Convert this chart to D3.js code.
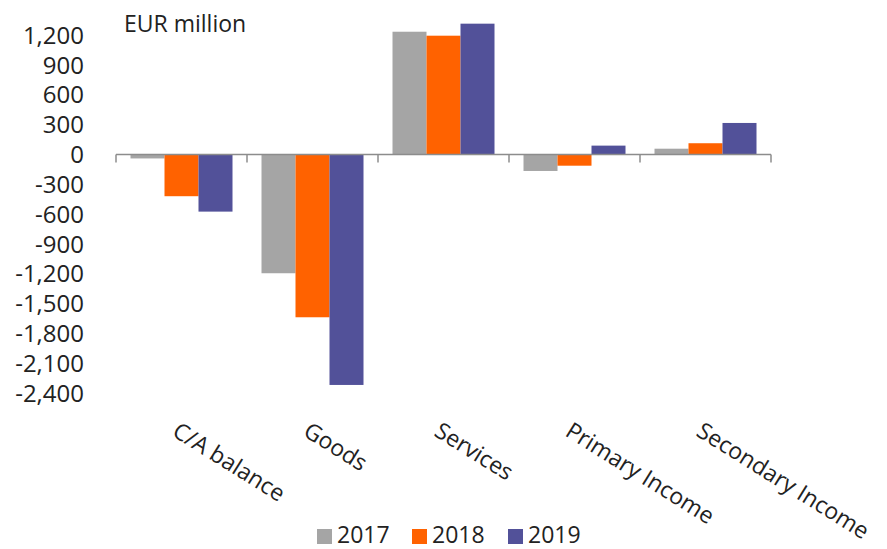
<!DOCTYPE html>
<html><head><meta charset="utf-8">
<script src="https://cdn.jsdelivr.net/npm/d3@7"></script>
<style>body{margin:0;background:#fff}svg{display:block}text{font-family:"Open Sans",sans-serif;fill:#222}</style>
</head><body><svg id="c" width="887" height="549"></svg>
<script>
const categories = ["C/A balance","Goods","Services","Primary Income","Secondary Income"];
const seriesNames = ["2017","2018","2019"];
const v2017 = [-40,-1195,1235,-166,58];
const v2018 = [-420,-1638,1195,-113,113];
const v2019 = [-575,-2319,1316,89,317];
const yTicks = [1200,900,600,300,0,-300,-600,-900,-1200,-1500,-1800,-2100,-2400];
const colors = ["#a5a5a5","#ff6200","#525199"];
const series = [v2017,v2018,v2019];

const svg = d3.select("#c");
const x0 = d3.scaleBand().domain(categories).range([116,771]).paddingInner(0).paddingOuter(0);
const x1 = d3.scaleBand().domain(seriesNames).range([14.5, x0.bandwidth()-14.5]).padding(0);
const y = d3.scaleLinear().domain([-2400,1200]).range([393,35.2]);

// y axis labels
const fmt = d3.format(",");
svg.append("g").selectAll("text").data(yTicks).join("text")
  .attr("x",84).attr("y",d=>y(d)).attr("dy","0.36em")
  .attr("text-anchor","end").attr("font-size",24).text(d=>fmt(d).replace("−","-"));

svg.append("text").attr("x",124).attr("y",32).attr("font-size",23).text("EUR million");

// bars
categories.forEach((c,i)=>{
  series.forEach((s,j)=>{
    const v = s[i];
    svg.append("rect")
      .attr("x", x0(c)+x1(seriesNames[j]))
      .attr("width", x1.bandwidth())
      .attr("y", y(Math.max(0,v)))
      .attr("height", Math.abs(y(v)-y(0)))
      .attr("fill", colors[j]);
  });
});

// x axis
const ax = svg.append("g");
ax.append("line").attr("x1",x0.range()[0]).attr("x2",x0.range()[1]).attr("y1",y(0)).attr("y2",y(0))
  .attr("stroke","#8c8c8c").attr("stroke-width",1.5);
const bounds = categories.map(c=>x0(c)).concat([x0.range()[1]]);
ax.selectAll("line.t").data(bounds).join("line").attr("class","t")
  .attr("x1",d=>d).attr("x2",d=>d).attr("y1",y(0)).attr("y2",y(0)+8)
  .attr("stroke","#8c8c8c").attr("stroke-width",1.5);

// category labels
svg.append("g").selectAll("text").data(categories).join("text")
  .attr("transform",d=>`translate(${x0(d)+x0.bandwidth()/2-10.5},${435}) rotate(32)`)
  .attr("font-size",23).attr("text-anchor","start").text(d=>d);

// legend
const lg = svg.append("g");
const lx = [317,412,508];
seriesNames.forEach((n,j)=>{
  lg.append("rect").attr("x",lx[j]).attr("y",529).attr("width",15).attr("height",15).attr("fill",colors[j]);
  lg.append("text").attr("x",lx[j]+20).attr("y",543).attr("font-size",23).text(n);
});
</script></body></html>
